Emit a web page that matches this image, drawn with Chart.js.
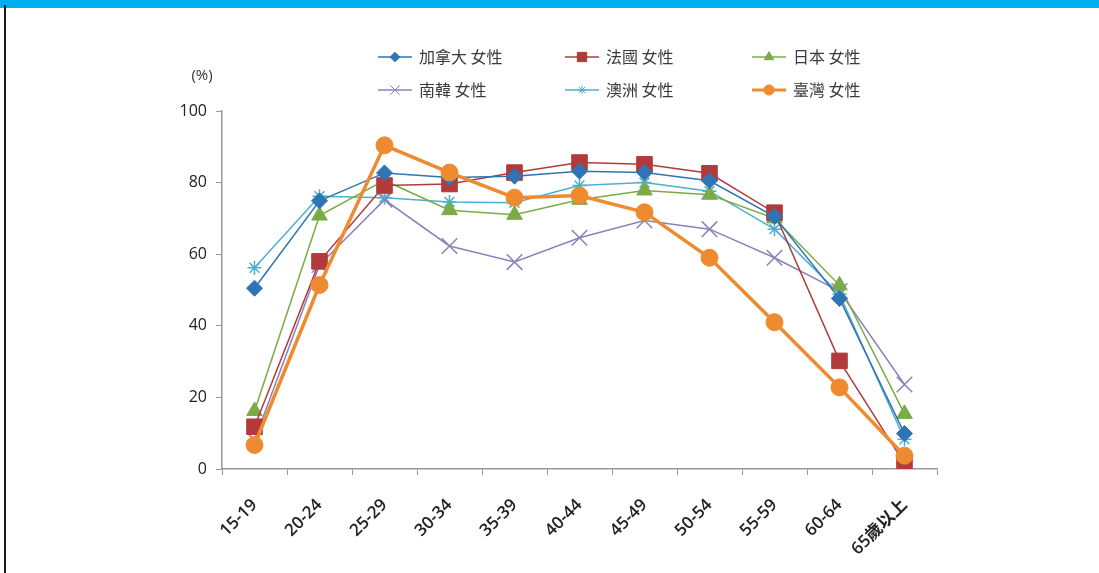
<!DOCTYPE html>
<html>
<head>
<meta charset="utf-8">
<script src="https://cdn.jsdelivr.net/npm/chart.js@4/dist/chart.umd.min.js"></script>
<style>
  html, body { margin: 0; padding: 0; background: #fff; }
  #wrap { position: relative; width: 1099px; height: 573px; overflow: hidden; }
  #topbar { position: absolute; left: 0; top: 0; width: 1099px; height: 8px; background: #00aeef; }
  #leftline { position: absolute; left: 4px; top: 5px; width: 2px; height: 568px; background: #1a1a1a; }
  #c { position: absolute; left: 0; top: 0; }
</style>
</head>
<body>
<div id="wrap">
  <canvas id="c" width="1099" height="573"></canvas>
  <div id="topbar"></div>
  <div id="leftline"></div>
</div>
<script>
// 年齡組別
const ageGroups = ['15-19', '20-24', '25-29', '30-34', '35-39', '40-44', '45-49', '50-54', '55-59', '60-64', '65歲以上'];
const yTicks = [0, 20, 40, 60, 80, 100];

// 各國女性勞動參與率 (%)
const canada    = [50.5, 74.9, 82.7, 81.4, 81.8, 83.2, 82.8, 80.5, 70.5, 47.6, 9.9];
const france    = [11.8, 58.0, 79.2, 79.6, 82.8, 85.6, 85.1, 82.6, 71.6, 30.2, 1.5];
const japan     = [16.2, 70.8, 80.6, 72.3, 71.0, 75.2, 77.8, 76.6, 70.0, 51.3, 15.4];
const korea     = [8.0, 57.0, 75.2, 62.3, 57.8, 64.6, 69.4, 67.0, 59.0, 49.7, 23.6];
const australia = [56.2, 76.2, 75.8, 74.6, 74.4, 79.2, 80.0, 77.6, 67.0, 48.8, 8.3];
const taiwan    = [6.7, 51.4, 90.4, 82.8, 75.8, 76.4, 71.7, 59.0, 41.0, 22.8, 3.7];

function series(label, data, color, style, radius, width, order) {
  return {
    label: label,
    data: data,
    borderColor: color,
    backgroundColor: color,
    pointBackgroundColor: color,
    pointBorderColor: color,
    pointStyle: style,
    pointRadius: radius,
    pointHoverRadius: radius,
    pointBorderWidth: style === 'crossRot' || style === 'star' ? 1.5 : 1,
    borderWidth: width,
    tension: 0,
    order: order
  };
}

const datasets = [
  series('加拿大 女性', canada, '#2f74b5', 'rectRot', 8, 1.5, 1),
  series('法國 女性', france, '#b23a3a', 'rect', 11, 1.5, 1),
  series('日本 女性', japan, '#79ac47', 'triangle', 9, 1.5, 1),
  series('南韓 女性', korea, '#8a82bd', 'crossRot', 11, 1.5, 1),
  series('澳洲 女性', australia, '#4cb0cf', 'star', 7, 1.5, 1),
  series('臺灣 女性', taiwan, '#ee8b30', 'circle', 8.5, 3.5, 0)
];

// 圖例 (兩列三欄)
const legendSpots = [
  [378, 57], [565, 57], [752, 57],
  [378, 90], [565, 90], [752, 90]
];

const legendPlugin = {
  id: 'gridLegend',
  afterDraw(chart) {
    const ctx = chart.ctx;
    ctx.save();
    chart.data.datasets.forEach(function (ds, i) {
      const x = legendSpots[i][0];
      const y = legendSpots[i][1];
      ctx.strokeStyle = ds.borderColor;
      ctx.fillStyle = ds.borderColor;
      ctx.lineWidth = ds.borderWidth > 2 ? 3 : 1.5;
      ctx.beginPath();
      ctx.moveTo(x, y);
      ctx.lineTo(x + 34, y);
      ctx.stroke();
      ctx.lineWidth = 1;
      Chart.helpers.drawPoint(ctx, {
        pointStyle: ds.pointStyle,
        radius: ds.pointRadius * 0.6,
        rotation: 0,
        borderWidth: 1
      }, x + 17, y);
      ctx.fillStyle = '#3a3a3a';
      ctx.font = '16px "Noto Sans CJK TC"';
      ctx.textBaseline = 'middle';
      ctx.textAlign = 'left';
      ctx.fillText(ds.label, x + 41, y);
    });
    ctx.font = '15px "Open Sans"';
    ctx.fillStyle = '#333';
    ctx.textAlign = 'center';
    ctx.textBaseline = 'middle';
    ctx.fillText('(%)', 202, 76);
    ctx.restore();
  }
};

new Chart(document.getElementById('c'), {
  type: 'line',
  data: { labels: ageGroups, datasets: datasets },
  options: {
    responsive: false,
    animation: false,
    layout: { padding: { left: 0, right: 162, top: 111, bottom: 0 } },
    plugins: {
      legend: { display: false },
      tooltip: { enabled: false },
      title: { display: false }
    },
    scales: {
      x: {
        type: 'category',
        offset: true,
        grid: { offset: true, drawOnChartArea: false, drawTicks: true, tickLength: 6, color: '#999' },
        border: { color: '#999', width: 1.5 },
        ticks: {
          minRotation: 45,
          maxRotation: 45,
          color: '#222',
          font: { family: '"Open Sans", "Noto Sans CJK TC"', size: 17, weight: '600' },
          padding: 20
        },
        afterFit(scale) { scale.height = 104; }
      },
      y: {
        min: 0,
        max: 100,
        afterBuildTicks(scale) { scale.ticks = yTicks.map(function (v) { return { value: v }; }); },
        grid: { drawOnChartArea: false, drawTicks: true, tickLength: 6, color: '#999' },
        border: { color: '#999', width: 1.5 },
        ticks: {
          color: '#222',
          font: { family: '"Open Sans"', size: 16 },
          padding: 9
        },
        afterFit(scale) { scale.width = 222; }
      }
    }
  },
  plugins: [legendPlugin]
});
</script>
</body>
</html>
